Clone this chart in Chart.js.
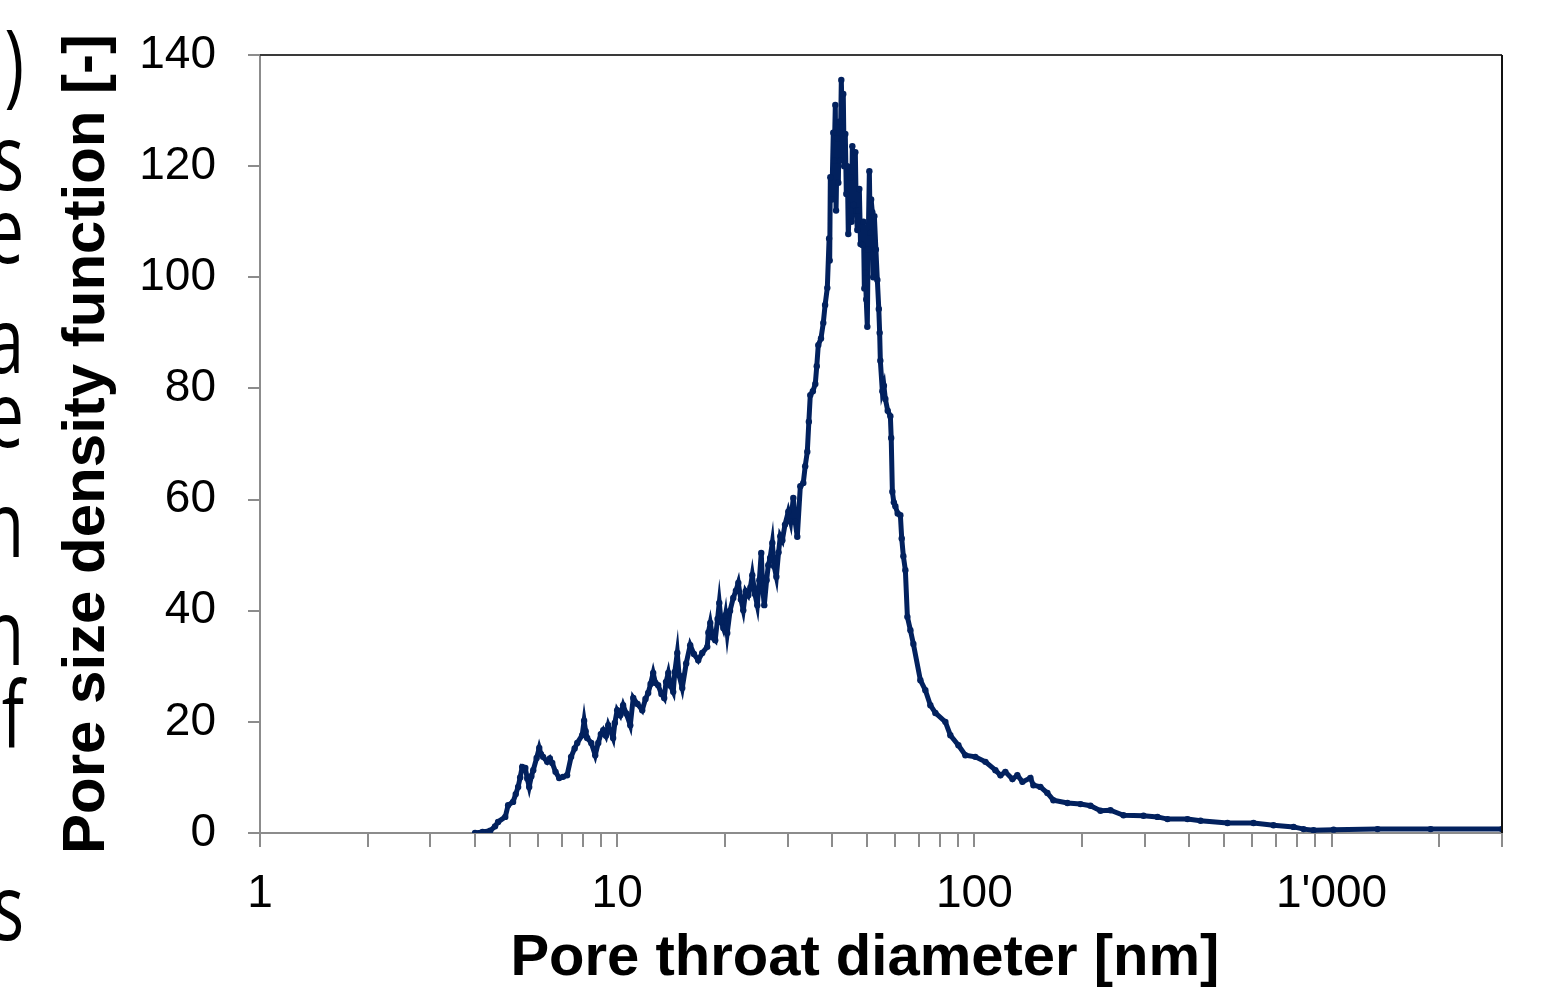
<!DOCTYPE html>
<html>
<head>
<meta charset="utf-8">
<script src="https://cdn.jsdelivr.net/npm/chart.js@4"></script>
<style>
  body { margin: 0; background: #fff; }
  #wrap { width: 1551px; height: 988px; }
</style>
</head>
<body>
<div id="wrap"><canvas id="mycanvas"></canvas></div>
<script>
// pore throat diameter [nm]
var diam = [
  4.00, 4.2, 4.41, 4.55, 4.64, 4.86, 4.95, 5.11, 5.2, 5.28, 5.35, 5.42, 5.53, 5.6, 5.67, 5.75, 5.82,
  5.95, 6.05, 6.12, 6.20, 6.37, 6.48, 6.58, 6.72, 6.88, 7.05, 7.24, 7.43, 7.6, 7.73, 7.98, 8.08,
  8.16, 8.24, 8.46, 8.68, 8.85, 9.0, 9.14, 9.3, 9.44, 9.74, 9.85, 10.0, 10.2, 10.39, 10.6, 10.88,
  11.09, 11.4, 11.75, 12.0, 12.21, 12.4, 12.61, 12.8, 13.02, 13.3, 13.54, 13.7, 13.90, 14.1, 14.35,
  14.5, 14.73, 14.9, 15.21, 15.6, 16.01, 16.4, 16.86, 17.3, 17.87, 18.0, 18.22, 18.5, 18.81, 19.1,
  19.31, 19.55, 19.82, 20.1, 20.33, 20.7, 21.13, 21.5, 21.83, 22.2, 22.54, 22.9, 23.28, 23.6, 23.89,
  24.3, 24.67, 25.0, 25.31, 25.55, 25.81, 26.2, 26.49, 26.8, 27.18, 27.5, 27.90, 28.3, 28.62, 29.00,
  29.5, 30.13, 30.6, 31.12, 31.5, 31.93, 32.56, 33.19, 33.6, 34.06, 34.4, 34.72, 35.3, 35.86, 36.2,
  36.56, 37.2, 37.76, 38.2, 38.75, 39.2, 39.35, 39.51, 39.9, 40.27, 40.5, 40.80, 41.0, 41.3, 41.6,
  41.86, 42.1, 42.41, 42.7, 42.95, 43.2, 43.51, 43.8, 44.08, 44.36, 44.7, 45.0, 45.3, 45.53, 45.9,
  46.42, 46.7, 47.02, 47.3, 47.63, 48.0, 48.56, 48.9, 49.2, 49.51, 49.8, 50.15, 50.4, 50.81, 51.1,
  51.4, 51.80, 52.1, 52.48, 53.0, 53.50, 54.0, 54.3, 54.54, 55.25, 55.8, 56.33, 57.2, 58.18, 58.5,
  58.94, 59.5, 60.09, 61.0, 62.06, 62.6, 63.27, 64.09, 64.93, 66.2, 67.49, 70.6, 72.91, 75.3, 77.76,
  82.94, 85.66, 90.21, 94.36, 100.6, 107.4, 114.5, 118.3, 122.1, 127.8, 131.9, 136.3, 143.5, 146.3,
  153, 160.1, 166.4, 182.2, 198.2, 211.3, 225.4, 240.4, 261.5, 297.4, 325.6, 347.2, 395, 429.6,
  511.2, 604.6, 687.8, 782.9, 835, 890.6, 1013, 1345, 1894, 3000
];
// pore size density function [-]
var psd = [
  0, 0.2, 0.4, 1.2, 2.0, 2.9, 5.0, 5.6, 7.0, 8.3, 10.0, 11.9, 11.7, 9.8, 8.3, 10.2, 11.3,
  13.5, 15.3, 14.2, 13.7, 12.8, 13.4, 12.6, 11.0, 9.9, 10.1, 10.4, 13.7, 15.2, 16.2, 17.6, 20.2,
  18.3, 17.1, 16.2, 14.0, 16.2, 17.8, 18.5, 17.5, 19.4, 17.1, 19.8, 22.1, 21.2, 23.0, 21.5, 19.4,
  24.3, 23.2, 22.1, 24.1, 25.2, 26.8, 28.8, 27.0, 26.6, 25.0, 24.3, 27.2, 28.8, 26.5, 25.4,
  29.0, 32.4, 28.4, 26.1, 30.5, 33.8, 32.2, 31.1, 32.4, 33.5, 36.1, 37.8, 35.2, 34.7, 38.5,
  41.4, 38.0, 36.9, 39.2, 36.0, 40.0, 42.3, 43.6, 45.0, 42.0, 40.1, 43.5, 42.8, 44.2, 46.4,
  43.0, 41.0, 45.5, 50.4, 44.0, 41.0, 45.5, 48.2, 49.5, 52.2, 48.0, 46.1, 50.5, 53.4, 52.7,
  55.5, 57.8, 56.0, 60.3, 56.0, 53.3, 62.4, 63.0, 66.0, 68.6, 74.0, 78.8, 79.5, 80.8, 84.0,
  87.8, 89.0, 91.8, 95.0, 98.1, 107, 103, 118, 114, 126, 121, 131, 112, 125, 117,
  128, 121, 135.5, 127, 133, 120, 125.8, 115, 120, 107.8, 113, 118, 110, 123.6, 113,
  122.5, 112, 108.5, 112, 115.9, 106, 105.8, 110, 98, 100.8, 96, 91.1, 105, 119.1, 108,
  114, 111.7, 100, 111, 105, 99.5, 94.3, 90, 85, 79.5, 80.5, 78.1, 76, 75, 71.1,
  61.4, 59.5, 58.8, 57.5, 57.2, 53, 49.8, 47.3, 38.9, 36.5, 34, 27.5, 25.7, 23, 21.6,
  20, 17.6, 15.8, 14, 13.7, 12.8, 11.3, 10.4, 11, 9.7, 10.4, 9.2, 9.9, 8.6,
  8.3, 7.2, 5.9, 5.4, 5.2, 4.9, 4.0, 4.1, 3.2, 3.1, 2.9, 2.5, 2.5, 2.2,
  1.8, 1.8, 1.4, 1.1, 0.7, 0.5, 0.6, 0.7, 0.7, 0.7
];
var xTicks = [1, 2, 3, 4, 5, 6, 7, 8, 9, 10, 20, 30, 40, 50, 60, 70, 80, 90,
  100, 200, 300, 400, 500, 600, 700, 800, 900, 1000, 2000, 3000];
var xLabels = { 1: '1', 10: '10', 100: '100', 1000: "1'000" };
var yTicks = [0, 20, 40, 60, 80, 100, 120, 140];

// cut-off letters of the neighbouring figure at the left edge
var strayChars = [')', 's', 'e', 'a', 'e', 'n', 'n', 'f', 's'];
var strayBase = [95, 190, 263, 373, 447, 557, 665, 747, 940];

var points = [];
for (var i = 0; i < diam.length; i++) {
  points.push({ x: diam[i], y: psd[i] });
}

var frame = {
  id: 'frame',
  afterDraw: function(chart) {
    var c = chart.ctx, a = chart.chartArea;
    c.save();
    c.lineWidth = 2;
    c.strokeStyle = '#3a3a3a';
    c.beginPath();
    c.moveTo(a.left, a.top);
    c.lineTo(a.right, a.top);
    c.stroke();
    c.strokeStyle = '#111';
    c.beginPath();
    c.moveTo(a.right, a.top);
    c.lineTo(a.right, a.bottom);
    c.stroke();
    // stray letters, narrow and tall like in the source
    c.fillStyle = '#000';
    c.font = '92px "Open Sans"';
    c.textAlign = 'right';
    c.textBaseline = 'alphabetic';
    c.scale(0.72, 1);
    for (var k = 0; k < strayChars.length; k++) {
      c.fillText(strayChars[k], 24 / 0.72, strayBase[k]);
    }
    c.restore();
  }
};

var ctx = document.getElementById('mycanvas');
var Graph = new Chart(ctx, {
  type: 'line',
  data: {
    datasets: [{
      data: points,
      borderColor: '#02215e',
      backgroundColor: '#02215e',
      borderWidth: 5,
      pointRadius: 3.2,
      pointBorderWidth: 0,
      tension: 0,
      fill: false
    }]
  },
  options: {
    responsive: true,
    maintainAspectRatio: false,
    animation: false,
    layout: { padding: { top: 55, right: 49, left: 0, bottom: 0 } },
    plugins: { legend: { display: false }, tooltip: { enabled: false } },
    scales: {
      x: {
        type: 'logarithmic',
        min: 1,
        max: 3000,
        afterBuildTicks: function(s) {
          s.ticks = xTicks.map(function(v) { return { value: v }; });
        },
        afterFit: function(s) {
          s.height = 155;
          s.paddingLeft = 0;
          s.paddingRight = 0;
        },
        grid: { drawOnChartArea: false, drawTicks: true, tickLength: 14, color: '#8c8c8c', lineWidth: 2 },
        border: { color: '#8c8c8c', width: 2 },
        ticks: {
          autoSkip: false,
          maxRotation: 0,
          padding: 20,
          color: '#000',
          font: { family: '"Liberation Sans", Arial', size: 46 },
          callback: function(v) { return xLabels[v] || ''; }
        },
        title: {
          display: true,
          text: 'Pore throat diameter [nm]  ',
          color: '#000',
          font: { family: '"Liberation Sans", Arial', size: 58, weight: 'bold', lineHeight: 1 },
          padding: { top: 0, bottom: 0 }
        }
      },
      y: {
        min: 0,
        max: 140,
        afterBuildTicks: function(s) {
          s.ticks = yTicks.map(function(v) { return { value: v }; });
        },
        afterFit: function(s) {
          s.width = 260;
          s.paddingTop = 0;
          s.paddingBottom = 0;
        },
        grid: { drawOnChartArea: false, drawTicks: true, tickLength: 12, color: '#8c8c8c', lineWidth: 2 },
        border: { color: '#8c8c8c', width: 2 },
        ticks: {
          padding: 32,
          color: '#000',
          font: { family: '"Liberation Sans", Arial', size: 46 }
        },
        title: {
          display: true,
          text: 'Pore size density function [-]',
          color: '#000',
          font: { family: '"Liberation Sans", Arial', size: 60, weight: 'bold', lineHeight: 1 },
          padding: { top: 57, bottom: 0 }
        }
      }
    }
  },
  plugins: [frame]
});
</script>
</body>
</html>
